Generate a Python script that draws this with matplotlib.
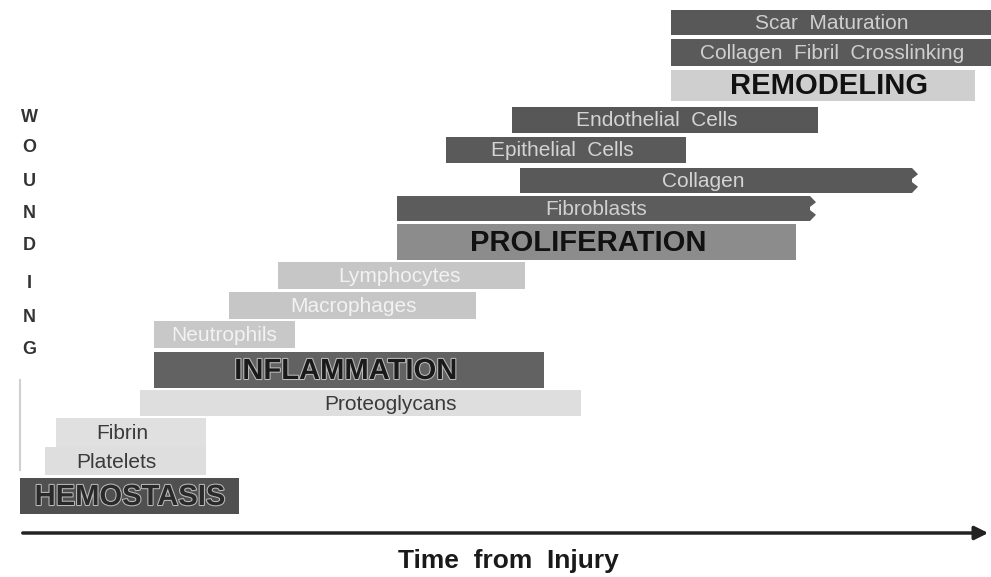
import matplotlib.pyplot as plt
from matplotlib.patches import Polygon
import matplotlib.patheffects as pe

plt.rcParams['font.family'] = ['Liberation Sans', 'DejaVu Sans']

# etapas da cicatrizacao (de cima para baixo), tempo em unidades arbitrarias
rotulos = ['Scar  Maturation', 'Collagen  Fibril  Crosslinking', 'REMODELING',
           'Endothelial  Cells', 'Epithelial  Cells', 'Collagen', 'Fibroblasts',
           'PROLIFERATION', 'Lymphocytes', 'Macrophages', 'Neutrophils',
           'INFLAMMATION', 'Proteoglycans', 'Fibrin', 'Platelets', 'HEMOSTASIS']
inicio = [671, 671, 671, 512, 446, 520, 397, 397, 278, 229, 154, 154, 140, 56, 45, 20]
fim = [995, 995, 975, 818, 686, 912, 810, 796, 525, 476, 295, 544, 581, 206, 206, 239]
fase = [False, False, True, False, False, False, False, True,
        False, False, False, True, False, False, False, True]
continua = [False, False, False, False, False, True, True, False,
            False, False, False, False, False, False, False, False]

# layout (pixels)
topo = [10, 39, 70, 107, 137, 168, 196, 224, 262, 292, 321, 352, 390, 418, 447, 478]
base = [35, 66, 101, 133, 163, 193, 221, 260, 289, 319, 348, 388, 416, 447, 475, 514]
cor_barra = ['#585858', '#5a5a5a', '#cfcfcf', '#575757', '#5a5a5a', '#595959', '#5c5c5c',
             '#8c8c8c', '#c6c6c6', '#c6c6c6', '#c8c8c8', '#626262', '#dedede',
             '#e0e0e0', '#dedede', '#505050']
cor_texto = ['#cfcfcf', '#cfcfcf', '#111111', '#d4d4d4', '#d4d4d4', '#d4d4d4', '#d0d0d0',
             '#111111', '#f2f2f2', '#f2f2f2', '#f2f2f2', '#1a1a1a', '#3a3a3a',
             '#3a3a3a', '#3a3a3a', '#2a2a2a']
pos_texto = [832, 832, 829, 657, 562, 703, 596, 588, 400, 353, 224, 346, 390, 122, 116, 130]

fig = plt.figure(figsize=(9.91, 5.77), dpi=100)
ax = fig.add_axes([0, 0, 1, 1])
ax.set_xlim(0, 991)
ax.set_ylim(577, 0)
ax.axis('off')

for i in range(len(rotulos)):
    h = base[i] - topo[i]
    yc = (topo[i] + base[i]) / 2
    ax.barh(yc, fim[i] - inicio[i], height=h, left=inicio[i], color=cor_barra[i])
    if continua[i]:
        # ponta serrilhada
        x0 = fim[i]
        pts = [(x0, topo[i]), (x0 + 6, topo[i] + h * 0.25), (x0 - 2, yc),
               (x0 + 6, base[i] - h * 0.25), (x0, base[i])]
        ax.add_patch(Polygon(pts, closed=True, color=cor_barra[i], lw=0))
    if fase[i]:
        t = ax.text(pos_texto[i], yc + 1, rotulos[i], ha='center', va='center',
                    fontsize=21, fontweight='bold', color=cor_texto[i])
        if i in (11, 15):
            t.set_path_effects([pe.withStroke(linewidth=1.5, foreground='#bbbbbb')])
    else:
        ax.text(pos_texto[i], yc + 1, rotulos[i], ha='center', va='center',
                fontsize=15, color=cor_texto[i])

# linha vertical fraca
ax.plot([20, 20], [380, 470], color='#d0d0d0', lw=1.5)

# WOUNDING
letras = 'WOUNDING'
y_letras = [118, 148, 182, 214, 246, 283, 318, 350]
for l, y in zip(letras, y_letras):
    ax.text(29, y, l, ha='center', va='center', fontsize=13, fontweight='bold', color='#333333')

# eixo do tempo
ax.annotate('', xy=(991, 533), xytext=(20, 533),
            arrowprops=dict(arrowstyle='-|>', color='#222222', lw=2.5, mutation_scale=20))
ax.text(508, 561, 'Time  from  Injury', ha='center', va='center', fontsize=19,
        fontweight='bold', color='#1a1a1a')

plt.savefig('out.png', dpi=100)
